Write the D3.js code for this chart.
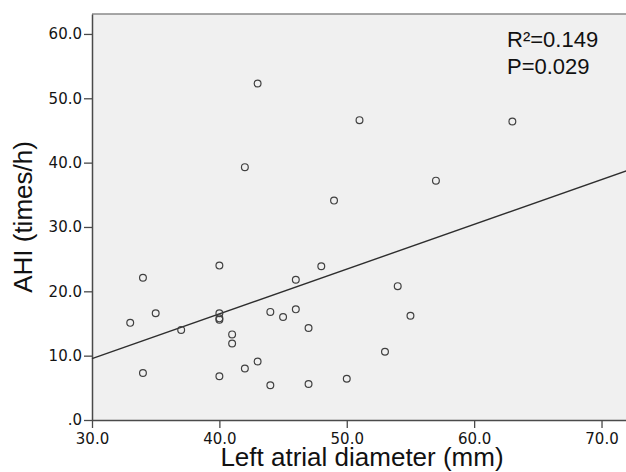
<!DOCTYPE html>
<html>
<head>
<meta charset="utf-8">
<script src="https://cdn.jsdelivr.net/npm/d3@7"></script>
<style>
  body { margin: 0; background: #fff; }
  svg { display: block; }
</style>
</head>
<body>
<svg id="scatter-chart" width="626" height="472"></svg>
<script>
// left atrial diameter (mm)
var laDiameter = [33, 34, 34, 35, 37, 40, 40, 40, 40, 40, 41, 41, 42, 42, 43, 43,
                  44, 44, 45, 46, 46, 47, 47, 48, 49, 50, 51, 53, 54, 55, 57, 63];
// AHI (times/h)
var ahi = [15.1, 22.1, 7.3, 16.6, 14.0, 24.0, 16.6, 15.8, 15.6, 6.8, 13.3, 11.9, 8.0, 39.3, 9.1, 52.3,
           16.8, 5.4, 16.0, 21.8, 17.2, 14.3, 5.6, 23.9, 34.1, 6.4, 46.6, 10.6, 20.8, 16.2, 37.2, 46.4];

// fit line
var fitIntercept = -11.3;
var fitSlope = 0.695;

var xTicks = [30, 40, 50, 60, 70];
var yTicks = [0, 10, 20, 30, 40, 50, 60];
var statLabels = ["R\u00b2=0.149", "P=0.029"];

var svg = d3.select("#scatter-chart");

// plot area edges (don't use "top", it is taken by window.top)
var plotLeft = 92, plotTop = 14, plotBottom = 420, plotRight = 627;

var x = d3.scaleLinear().domain([30, 72]).range([plotLeft, plotRight]);
var y = d3.scaleLinear().domain([0, 63.1]).range([plotBottom, plotTop]);

function fmt(d) {
    // SPSS style: 0 shows as ".0"
    return d === 0 ? ".0" : d.toFixed(1);
}

// plot background
svg.append("rect")
    .attr("x", plotLeft)
    .attr("y", plotTop)
    .attr("width", plotRight - plotLeft + 10)
    .attr("height", plotBottom - plotTop)
    .attr("fill", "#f0f0f0");

// top frame line
svg.append("line")
    .attr("x1", plotLeft).attr("x2", 626)
    .attr("y1", plotTop).attr("y2", plotTop)
    .attr("stroke", "#8a8a8a")
    .attr("stroke-width", 1.4);

// axes
var xAxis = svg.append("g")
    .attr("transform", "translate(0," + plotBottom + ")")
    .call(d3.axisBottom(x).tickValues(xTicks).tickFormat(fmt).tickSize(8).tickSizeOuter(0).tickPadding(5));

var yAxis = svg.append("g")
    .attr("transform", "translate(" + plotLeft + ",0)")
    .call(d3.axisLeft(y).tickValues(yTicks).tickFormat(fmt).tickSize(8).tickSizeOuter(0).tickPadding(2));

[xAxis, yAxis].forEach(function(g) {
    g.select(".domain").attr("stroke", "#4a4a4a").attr("stroke-width", 1.5);
    g.selectAll(".tick line").attr("stroke", "#4a4a4a").attr("stroke-width", 1.3);
    g.selectAll(".tick text")
        .attr("fill", "#141414")
        .style("font-family", "'DejaVu Sans', sans-serif")
        .style("font-size", "15px");
});

// regression line
svg.append("line")
    .attr("x1", x(30)).attr("y1", y(fitIntercept + fitSlope * 30))
    .attr("x2", x(72)).attr("y2", y(fitIntercept + fitSlope * 72))
    .attr("stroke", "#2e2e2e")
    .attr("stroke-width", 1.4);

// points
svg.append("g")
    .selectAll("circle")
    .data(laDiameter)
    .enter().append("circle")
    .attr("cx", function(d) { return x(d); })
    .attr("cy", function(d, i) { return y(ahi[i]); })
    .attr("r", 3.4)
    .attr("fill", "none")
    .attr("stroke", "#404040")
    .attr("stroke-width", 1.2);

// stats text
svg.append("g")
    .selectAll("text")
    .data(statLabels)
    .enter().append("text")
    .attr("x", 507)
    .attr("y", function(d, i) { return 47 + i * 27; })
    .attr("fill", "#111")
    .style("font-family", "'Liberation Sans', Arial, sans-serif")
    .style("font-size", "22px")
    .text(function(d) { return d; });

// axis titles
svg.append("text")
    .attr("text-anchor", "middle")
    .attr("x", 362)
    .attr("y", 466)
    .attr("fill", "#111")
    .style("font-family", "'Liberation Sans', Arial, sans-serif")
    .style("font-size", "26px")
    .text("Left atrial diameter (mm)");

svg.append("text")
    .attr("text-anchor", "middle")
    .attr("transform", "translate(32,217)rotate(-90)")
    .attr("fill", "#111")
    .style("font-family", "'Liberation Sans', Arial, sans-serif")
    .style("font-size", "26px")
    .text("AHI (times/h)");
</script>
</body>
</html>
